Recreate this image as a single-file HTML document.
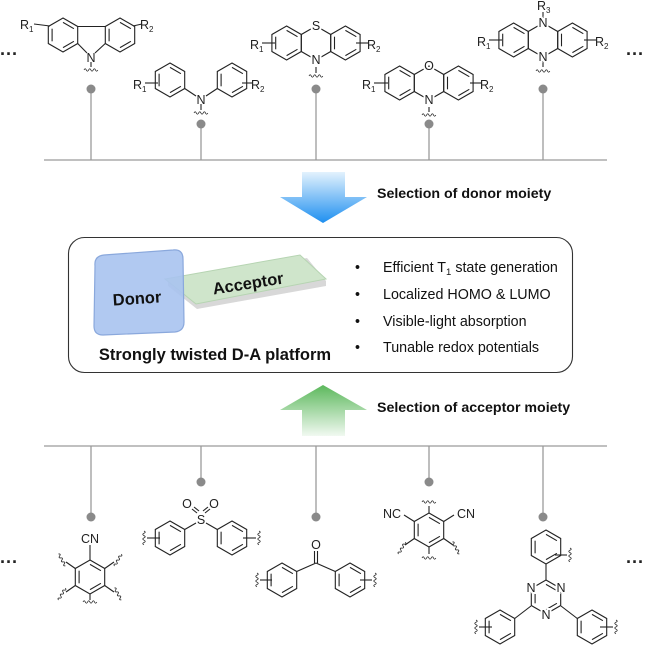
<!DOCTYPE html>
<html><head><meta charset="utf-8"><style>
html,body{margin:0;padding:0;background:#fff}
svg{display:block}
text{font-family:"Liberation Sans",Arial,sans-serif}
.a{font-size:12.5px;fill:#222}
.w{stroke:#fff;stroke-width:4;paint-order:stroke}
</style></head><body>
<svg width="646" height="646" viewBox="0 0 646 646" xmlns="http://www.w3.org/2000/svg">
<defs>
<symbol id="hx" overflow="visible"><g fill="none" stroke="#222" stroke-width="1.1">
<polygon points="0,-17 14.7,-8.5 14.7,8.5 0,17 -14.7,8.5 -14.7,-8.5"/>
<line x1="0" y1="-12.6" x2="10.9" y2="-6.3"/><line x1="10.9" y1="6.3" x2="0" y2="12.6"/><line x1="-10.9" y1="6.3" x2="-10.9" y2="-6.3"/></g></symbol>
<symbol id="hp" overflow="visible"><polygon points="0,-17 14.7,-8.5 14.7,8.5 0,17 -14.7,8.5 -14.7,-8.5" fill="none" stroke="#222" stroke-width="1.1"/></symbol>
<symbol id="wv" overflow="visible"><path d="M-7,0 q1.2,-2.5 2.3,0 t2.3,0 t2.3,0 t2.3,0 t2.3,0 t2.3,0" fill="none" stroke="#222" stroke-width="0.8"/></symbol>
<linearGradient id="gb" x1="0" y1="0" x2="0" y2="1"><stop offset="0" stop-color="#e3f2fd"/><stop offset="1" stop-color="#1e8ff0"/></linearGradient>
<linearGradient id="gg" x1="0" y1="0" x2="0" y2="1"><stop offset="0" stop-color="#5cb85c"/><stop offset="1" stop-color="#f1f9f1"/></linearGradient>
</defs>

<g stroke="#9a9a9a" stroke-width="1.3">
<line x1="44" y1="160" x2="607" y2="160"/>
<line x1="91" y1="89" x2="91" y2="160"/><line x1="201" y1="124" x2="201" y2="160"/>
<line x1="316" y1="89" x2="316" y2="160"/><line x1="429" y1="124" x2="429" y2="160"/>
<line x1="543" y1="89" x2="543" y2="160"/>
<line x1="44" y1="446" x2="607" y2="446"/>
<line x1="91" y1="446" x2="91" y2="517"/><line x1="201" y1="446" x2="201" y2="482"/>
<line x1="316" y1="446" x2="316" y2="517"/><line x1="429" y1="446" x2="429" y2="482"/>
<line x1="543" y1="446" x2="543" y2="517"/>
</g>
<g fill="#8a8a8a">
<circle cx="91" cy="89" r="4.5"/><circle cx="201" cy="124" r="4.5"/><circle cx="316" cy="89" r="4.5"/><circle cx="429" cy="124" r="4.5"/><circle cx="543" cy="89" r="4.5"/>
<circle cx="91" cy="517" r="4.5"/><circle cx="201" cy="482" r="4.5"/><circle cx="316" cy="517" r="4.5"/><circle cx="429" cy="482" r="4.5"/><circle cx="543" cy="517" r="4.5"/>
</g>
<text x="0" y="60" font-size="18" font-weight="bold" fill="#222">···</text>
<text x="626" y="60" font-size="18" font-weight="bold" fill="#222">···</text>
<text x="0" y="568" font-size="18" font-weight="bold" fill="#222">···</text>
<text x="626" y="568" font-size="18" font-weight="bold" fill="#222">···</text>

<g stroke="#222" stroke-width="1.1" fill="none">
<line x1="77.7" y1="26.5" x2="105.3" y2="26.5"/><line x1="77.7" y1="43.5" x2="87" y2="53"/><line x1="105.3" y1="43.5" x2="95" y2="53"/>
<line x1="91" y1="62" x2="91" y2="67"/><line x1="34" y1="24" x2="50" y2="26"/><line x1="133" y1="26" x2="142" y2="24"/>
<line x1="184.7" y1="88.5" x2="196" y2="96"/><line x1="217.3" y1="88.5" x2="206" y2="96"/><line x1="201" y1="104" x2="201" y2="110"/>
<line x1="145" y1="83" x2="158" y2="83"/><line x1="242" y1="83" x2="252" y2="83"/>
<line x1="316" y1="67" x2="316" y2="73"/><line x1="262" y1="43" x2="275" y2="43"/><line x1="356" y1="43" x2="368" y2="43"/>
<line x1="429" y1="107" x2="429" y2="112"/><line x1="374" y1="83" x2="388" y2="83"/><line x1="470" y1="83" x2="481" y2="83"/>
<line x1="543" y1="12" x2="543" y2="18"/><line x1="543" y1="61" x2="543" y2="67"/><line x1="489" y1="40" x2="502" y2="40"/><line x1="584" y1="40" x2="596" y2="40"/>
</g>
<use href="#hx" x="63" y="35"/><use href="#hx" x="120" y="35"/>
<use href="#wv" x="91" y="70"/>
<text class="a" x="91" y="62" text-anchor="middle">N</text>
<text class="a" x="20" y="29">R<tspan font-size="8" dy="3">1</tspan></text>
<text class="a" x="140" y="29">R<tspan font-size="8" dy="3">2</tspan></text>

<use href="#hx" x="170" y="80"/><use href="#hx" x="232" y="80"/>
<text class="a" x="201" y="104" text-anchor="middle">N</text><use href="#wv" x="201" y="113"/>
<text class="a" x="133" y="89">R<tspan font-size="8" dy="3">1</tspan></text>
<text class="a" x="251" y="89">R<tspan font-size="8" dy="3">2</tspan></text>

<use href="#hx" x="286.6" y="43"/><use href="#hp" x="316" y="43"/><use href="#hx" x="345.4" y="43"/>
<text class="a w" x="316" y="30" text-anchor="middle">S</text><text class="a w" x="316" y="64" text-anchor="middle">N</text>
<use href="#wv" x="316" y="76"/>
<text class="a" x="250" y="49">R<tspan font-size="8" dy="3">1</tspan></text>
<text class="a" x="367" y="49">R<tspan font-size="8" dy="3">2</tspan></text>

<use href="#hx" x="399.6" y="83"/><use href="#hp" x="429" y="83"/><use href="#hx" x="458.4" y="83"/>
<text class="a w" x="429" y="70" text-anchor="middle">O</text><text class="a w" x="429" y="104" text-anchor="middle">N</text>
<use href="#wv" x="429" y="115"/>
<text class="a" x="362" y="89">R<tspan font-size="8" dy="3">1</tspan></text>
<text class="a" x="480" y="89">R<tspan font-size="8" dy="3">2</tspan></text>

<use href="#hx" x="513.6" y="40"/><use href="#hp" x="543" y="40"/><use href="#hx" x="572.4" y="40"/>
<text class="a w" x="543" y="27" text-anchor="middle">N</text><text class="a w" x="543" y="61" text-anchor="middle">N</text>
<text class="a" x="537" y="10">R<tspan font-size="8" dy="3">3</tspan></text>
<use href="#wv" x="543" y="71"/>
<text class="a" x="477" y="46">R<tspan font-size="8" dy="3">1</tspan></text>
<text class="a" x="595" y="46">R<tspan font-size="8" dy="3">2</tspan></text>

<polygon points="302,172 345,172 345,197 367,197 323,223 280,197 302,197" fill="url(#gb)"/>
<text x="377" y="198" font-size="14.2" font-weight="bold" fill="#111">Selection of donor moiety</text>
<polygon points="323,385 367,410 345,410 345,436 302,436 302,410 280,410" fill="url(#gg)"/>
<text x="377" y="412" font-size="14.2" font-weight="bold" fill="#111">Selection of acceptor moiety</text>

<rect x="68.5" y="237.5" width="504" height="135" rx="16" fill="#fff" stroke="#333" stroke-width="1.1"/>
<polygon points="168,281 307,258 326,281 326,286 197,309 168,286" fill="#d8d8d8"/>
<polygon points="165,279 300,255 326,279 196,304" fill="#cfe5cb" stroke="#b6d4b2" stroke-width="1"/>
<path d="M95,266 Q94,256 104,255 L173,250 Q183,249 183,259 L184,322 Q184,331 175,332 L103,335 Q94,335 94,326 Z" fill="#a8c3ef" fill-opacity="0.9" stroke="#8aa8dc" stroke-width="1.2"/>
<text x="137" y="304" font-size="16.5" font-weight="bold" fill="#111" text-anchor="middle" transform="rotate(-4 137 298)">Donor</text>
<text x="248" y="289" font-size="16.5" font-weight="bold" fill="#111" text-anchor="middle" transform="rotate(-9 248 283)">Acceptor</text>
<text x="215" y="360" font-size="16.5" font-weight="bold" fill="#111" text-anchor="middle">Strongly twisted D-A platform</text>
<g font-size="14.3" fill="#111">
<text x="355" y="272">•</text><text x="383" y="272">Efficient T<tspan font-size="9.5" dy="3">1</tspan><tspan dy="-3"> state generation</tspan></text>
<text x="355" y="299">•</text><text x="383" y="299">Localized HOMO &amp; LUMO</text>
<text x="355" y="326">•</text><text x="383" y="326">Visible-light absorption</text>
<text x="355" y="352">•</text><text x="383" y="352">Tunable redox potentials</text>
</g>

<g stroke="#222" stroke-width="1.1" fill="none">
<line x1="90" y1="560" x2="90" y2="545"/>
<line x1="75.3" y1="568.5" x2="66" y2="562"/><line x1="104.7" y1="568.5" x2="114" y2="562"/>
<line x1="75.3" y1="585.5" x2="66" y2="592"/><line x1="104.7" y1="585.5" x2="114" y2="592"/>
<line x1="90" y1="594" x2="90" y2="600"/>
<line x1="184.7" y1="529.5" x2="196" y2="523"/><line x1="217.3" y1="529.5" x2="206" y2="523"/>
<line x1="197" y1="513" x2="192" y2="509"/><line x1="199" y1="511" x2="194" y2="507"/>
<line x1="205" y1="513" x2="210" y2="509"/><line x1="203" y1="511" x2="208" y2="507"/>
<line x1="147" y1="538" x2="160" y2="538"/><line x1="243" y1="538" x2="256" y2="538"/>
<line x1="296.7" y1="571.5" x2="316" y2="563"/><line x1="335.3" y1="571.5" x2="316" y2="563"/>
<line x1="314.5" y1="563" x2="314.5" y2="551"/><line x1="317.5" y1="563" x2="317.5" y2="551"/>
<line x1="260" y1="580" x2="272" y2="580"/><line x1="360" y1="580" x2="372" y2="580"/>
<line x1="414.3" y1="521.5" x2="404" y2="515"/><line x1="443.7" y1="521.5" x2="454" y2="515"/>
<line x1="429" y1="513" x2="429" y2="506"/><line x1="429" y1="547" x2="429" y2="554"/>
<line x1="414.3" y1="538.5" x2="405" y2="545"/><line x1="443.7" y1="538.5" x2="453" y2="545"/>
<line x1="546" y1="564" x2="546" y2="580"/>
<line x1="531" y1="606" x2="514.7" y2="618.5"/><line x1="561" y1="606" x2="577.3" y2="618.5"/>
<line x1="555" y1="555" x2="567" y2="555"/><line x1="479" y1="627" x2="492" y2="627"/><line x1="600" y1="627" x2="613" y2="627"/>
</g>
<use href="#hx" x="90" y="577"/><text class="a" x="90" y="543" text-anchor="middle">CN</text>
<use href="#wv" x="62" y="560" transform="rotate(60 62 560)"/><use href="#wv" x="118" y="560" transform="rotate(-60 118 560)"/>
<use href="#wv" x="62" y="594" transform="rotate(-60 62 594)"/><use href="#wv" x="118" y="594" transform="rotate(60 118 594)"/>
<use href="#wv" x="90" y="602"/>

<use href="#hx" x="170" y="538"/><use href="#hx" x="232" y="538"/>
<text class="a" x="201" y="524" text-anchor="middle">S</text>
<text class="a" x="187" y="508" text-anchor="middle">O</text><text class="a" x="214" y="508" text-anchor="middle">O</text>
<use href="#wv" x="144" y="538" transform="rotate(90 144 538)"/><use href="#wv" x="259" y="538" transform="rotate(90 259 538)"/>

<use href="#hx" x="282" y="580"/><use href="#hx" x="350" y="580"/>
<text class="a" x="316" y="549" text-anchor="middle">O</text>
<use href="#wv" x="257" y="580" transform="rotate(90 257 580)"/><use href="#wv" x="375" y="580" transform="rotate(90 375 580)"/>

<use href="#hx" x="429" y="530"/>
<text class="a" x="392" y="518" text-anchor="middle">NC</text><text class="a" x="466" y="518" text-anchor="middle">CN</text>
<use href="#wv" x="429" y="502"/><use href="#wv" x="429" y="558"/>
<use href="#wv" x="402" y="548" transform="rotate(-60 402 548)"/><use href="#wv" x="456" y="548" transform="rotate(60 456 548)"/>

<use href="#hx" x="546" y="547"/>
<use href="#hx" x="546" y="597"/>
<text class="a w" x="531" y="592" text-anchor="middle">N</text><text class="a w" x="561" y="592" text-anchor="middle">N</text><text class="a w" x="546" y="619" text-anchor="middle">N</text>
<use href="#hx" x="500" y="627"/><use href="#hx" x="592" y="627"/>
<use href="#wv" x="570" y="555" transform="rotate(90 570 555)"/>
<use href="#wv" x="476" y="627" transform="rotate(90 476 627)"/><use href="#wv" x="616" y="627" transform="rotate(90 616 627)"/>
</svg>
</body></html>
